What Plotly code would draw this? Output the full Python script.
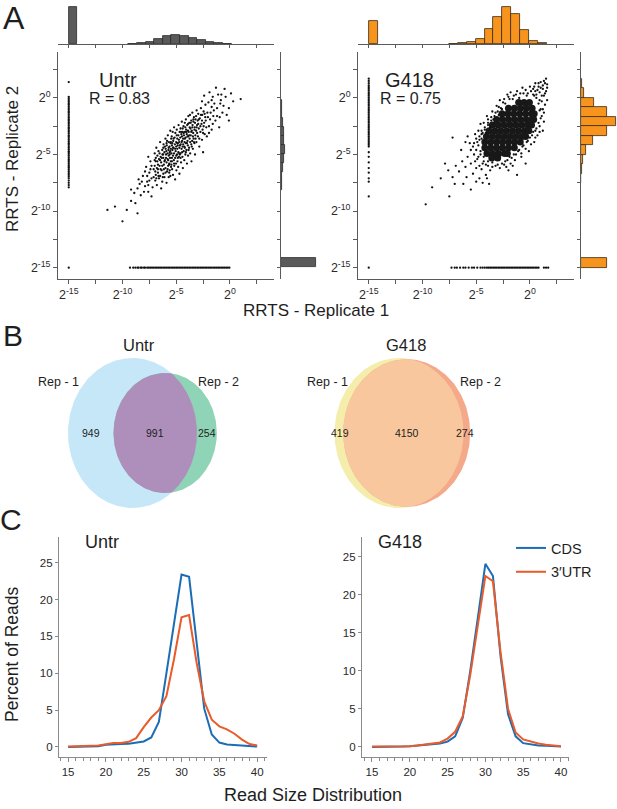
import math
import plotly.graph_objects as go

# ======================= DATA =======================
# Panel A: log2 RRTS values (replicate 1 = x, replicate 2 = y)
scatter_tickvals = [-15, -10, -5, 0]
scatter_ticktext = ["2<sup>-15</sup>", "2<sup>-10</sup>", "2<sup>-5</sup>", "2<sup>0</sup>"]
scatter_minor_ticks = [-12.5, -7.5, -2.5, 2.5]
hist_ticks = [-15, -12.5, -10, -7.5, -5, -2.5, 0, 2.5]

untr_cloud = [
    (-11.4, -9.9), (-10.7, -9.6), (-10.0, -10.9), (-9.6, -9.9), (-8.6, -10.2), (-9.2, -9.1),
    (-9.2, -8.1), (-8.8, -9.3),
    (-8.5, -7.2), (-8.3, -8.6), (-8.1, -6.9), (-7.9, -7.8), (-8.6, -8.0),
    (-7.8, -6.1), (-7.7, -7.4), (-7.6, -8.3), (-7.5, -6.6), (-7.4, -5.6), (-7.3, -7.1), (-7.2, -7.9),
    (-7.1, -6.3), (-7.6, -5.2), (-7.3, -8.7),
    (-7.0, -6.0), (-7.0, -4.9), (-6.95, -7.3), (-6.9, -5.6), (-6.9, -6.8), (-6.85, -4.4), (-6.8, -6.2),
    (-6.8, -7.7), (-6.75, -5.1), (-6.7, -5.9), (-6.7, -6.6), (-6.65, -4.7), (-6.6, -7.1), (-6.6, -5.4),
    (-6.55, -6.0), (-6.5, -3.9), (-6.5, -6.9), (-6.45, -5.2), (-6.4, -8.0), (-6.4, -5.7), (-6.35, -6.4),
    (-6.3, -4.6), (-6.3, -7.4), (-6.28, -5.0),
    (-6.2, -5.3), (-6.2, -6.7), (-6.18, -4.1), (-6.15, -5.9), (-6.1, -4.8), (-6.1, -7.0), (-6.05, -5.5),
    (-6.0, -3.6), (-6.0, -6.2), (-5.98, -4.5), (-5.95, -5.0), (-5.9, -7.5), (-5.9, -5.7), (-5.88, -4.2),
    (-5.85, -6.5), (-5.8, -4.9), (-5.8, -5.4), (-5.78, -3.3), (-5.75, -6.0), (-5.72, -4.6), (-5.7, -7.0),
    (-5.7, -5.1), (-5.68, -3.9), (-5.65, -5.8), (-5.62, -4.3), (-5.6, -6.4), (-5.6, -4.8), (-5.58, -5.3),
    (-5.55, -2.9), (-5.55, -6.9), (-5.52, -4.0), (-5.5, -5.6), (-5.5, -4.5), (-5.48, -6.1), (-5.47, -3.6),
    (-6.22, -5.0), (-5.92, -4.7), (-5.66, -5.9),
    (-5.44, -4.9), (-5.42, -3.4), (-5.4, -5.6), (-5.4, -4.2), (-5.38, -6.3), (-5.35, -4.6), (-5.33, -3.0),
    (-5.3, -5.1), (-5.3, -6.8), (-5.28, -3.8), (-5.25, -4.4), (-5.22, -5.5), (-5.2, -2.6), (-5.2, -4.9),
    (-5.18, -6.0), (-5.15, -3.5), (-5.12, -4.1), (-5.1, -5.3), (-5.1, -7.2), (-5.08, -3.1), (-5.05, -4.7),
    (-5.02, -5.8), (-5.0, -3.9), (-5.0, -4.3), (-4.98, -6.4), (-4.95, -2.8), (-4.92, -5.0), (-4.9, -3.6),
    (-4.9, -4.5), (-4.88, -5.6), (-4.85, -4.0), (-4.82, -6.1), (-4.8, -3.3), (-4.8, -4.8), (-4.78, -2.4),
    (-4.75, -5.2), (-4.72, -3.9), (-4.7, -4.4), (-4.7, -6.7), (-4.68, -3.0), (-4.66, -5.0), (-5.36, -4.0),
    (-4.86, -4.2),
    (-4.62, -3.5), (-4.6, -4.9), (-4.6, -2.7), (-4.58, -4.1), (-4.55, -5.7), (-4.52, -3.2), (-4.5, -4.5),
    (-4.48, -2.1), (-4.45, -3.8), (-4.42, -5.2), (-4.4, -3.0), (-4.4, -4.3), (-4.38, -6.2), (-4.35, -3.6),
    (-4.32, -2.5), (-4.3, -4.7), (-4.28, -3.3), (-4.25, -5.5), (-4.22, -3.9), (-4.2, -2.2), (-4.2, -4.4),
    (-4.18, -3.0), (-4.15, -5.0), (-4.12, -3.5), (-4.1, -1.9), (-4.1, -4.0), (-4.08, -2.8), (-4.05, -4.6),
    (-4.02, -3.2), (-4.0, -5.8), (-3.98, -2.4), (-3.95, -3.8), (-3.92, -4.2), (-3.9, -2.9), (-3.9, -5.1),
    (-3.88, -3.4), (-3.87, -1.6), (-4.47, -3.4),
    (-3.84, -3.0), (-3.8, -4.4), (-3.78, -2.2), (-3.75, -3.6), (-3.72, -1.5), (-3.7, -4.9), (-3.68, -2.7),
    (-3.65, -3.3), (-3.6, -2.0), (-3.6, -4.1), (-3.58, -5.6), (-3.55, -2.9), (-3.52, -3.8), (-3.5, -1.3),
    (-3.48, -2.4), (-3.45, -4.5), (-3.42, -3.1), (-3.4, -2.1), (-3.38, -3.6), (-3.35, -1.7), (-3.3, -4.0),
    (-3.28, -2.6), (-3.25, -5.0), (-3.22, -3.3), (-3.2, -1.9), (-3.15, -2.9), (-3.12, -3.9), (-3.1, -1.1),
    (-3.06, -2.4),
    (-3.0, -2.0), (-2.98, -3.4), (-2.95, -1.4), (-2.9, -2.7), (-2.85, -4.3), (-2.8, -1.8), (-2.75, -3.0),
    (-2.7, -0.9), (-2.65, -2.3), (-2.6, -3.7), (-2.58, -1.5), (-2.55, -2.8), (-2.5, -4.8), (-2.45, -1.2),
    (-2.4, -2.2), (-2.35, -3.2), (-2.3, -1.7), (-2.28, -0.6),
    (-2.2, -2.6), (-2.1, -1.3), (-2.0, -0.4), (-1.95, -3.1), (-1.85, -1.9), (-1.7, -0.8), (-1.6, -2.3),
    (-1.5, -1.1), (-2.4, 0.2), (-1.9, 0.5), (-2.6, -0.3), (-1.6, 0.1), (-0.8, 0.3),
    (-1.3, 0.9), (-1.2, -1.6), (-1.0, -2.6), (-0.9, -0.5), (-0.7, -1.3),
    (-0.5, 0.8), (0.1, 0.4), (1.0, -0.1), (-1.7, -0.2), (-0.1, -0.9), (-0.1, -2.0),
    (-6.9, -5.3), (-6.7, -6.3), (-6.5, -5.5), (-6.3, -6.0), (-6.2, -4.4), (-6.1, -5.6), (-6.0, -6.6),
    (-5.9, -4.0), (-5.8, -6.3), (-5.7, -4.4), (-5.6, -5.0), (-5.5, -3.9), (-5.4, -5.3), (-5.3, -4.4),
    (-5.25, -3.6), (-5.2, -5.8), (-5.1, -4.5), (-5.0, -5.1), (-4.95, -3.3), (-4.9, -4.0), (-4.85, -5.3),
    (-4.75, -3.7), (-4.7, -4.9), (-4.65, -4.2), (-4.6, -5.3), (-4.55, -3.0), (-4.5, -3.9), (-4.45, -4.8),
    (-4.4, -2.7), (-4.35, -4.1), (-4.3, -3.1), (-4.25, -4.3), (-4.2, -3.6), (-4.15, -2.6), (-4.1, -4.8),
    (-4.05, -3.0), (-4.0, -4.0), (-3.95, -3.4), (-3.9, -2.3), (-3.85, -4.6), (-3.8, -3.3), (-3.75, -2.6),
    (-3.7, -3.9), (-3.65, -2.2), (-3.6, -3.0), (-3.55, -4.3), (-3.5, -2.6), (-3.45, -3.4), (-3.4, -1.9),
    (-3.35, -3.9), (-3.3, -2.8), (-3.25, -2.2), (-3.2, -3.6), (-3.15, -1.6), (-3.1, -2.6), (-3.05, -3.1),
    (-2.95, -2.3), (-2.9, -1.9), (-2.85, -3.6), (-2.75, -2.5), (-2.7, -1.5), (-2.6, -2.0), (-2.5, -3.1),
    (-2.45, -2.5), (-2.35, -1.4), (-2.25, -2.0), (-2.15, -3.4), (-2.05, -1.7), (-1.95, -2.5), (-1.8, -1.3),
    (-1.7, -2.8), (-1.55, -1.6), (-1.45, -0.5), (-1.35, -2.0), (-1.2, -0.9), (-1.1, 0.3), (-0.95, -1.7),
    (-0.85, -0.2), (-0.6, -0.7), (-0.4, 0.1), (-0.3, -1.5), (0.3, -0.3),
    (-7.5, -7.3), (-7.3, -6.0), (-7.1, -7.0), (-7.0, -5.5), (-6.95, -6.5), (-6.85, -7.1), (-6.75, -5.6),
    (-6.65, -6.9), (-6.55, -4.9), (-6.45, -6.3), (-6.35, -5.3), (-6.25, -7.0), (-6.15, -6.3), (-6.05, -4.3),
    (-5.95, -5.3), (-5.85, -3.8), (-5.75, -5.5), (-5.65, -6.6), (-5.55, -4.7), (-5.45, -5.9),
    (-8.9, -8.4), (-8.4, -7.6), (-8.0, -8.3), (-7.9, -6.5), (-7.7, -6.9), (-8.2, -7.4), (-7.6, -7.7),
    (-7.4, -6.3),
]
untr_left_strip_y = [1.4, 0.1, -0.05, -0.2, -0.35, -0.5, -0.6, -0.75, -0.9, -1.05, -1.2, -1.3, -1.45,
                     -1.6, -1.75, -1.9, -2.0, -2.15, -2.3, -2.45, -2.6, -2.7, -2.85, -3.0, -3.15, -3.3,
                     -3.4, -3.55, -3.7, -3.85, -4.0, -4.1, -4.25, -4.4, -4.55, -4.7, -4.8, -4.95, -5.1,
                     -5.25, -5.4, -5.5, -5.65, -5.8, -5.95, -6.1, -6.2, -6.35, -6.5, -6.65, -6.8, -6.95,
                     -7.1, -7.3, -7.5, -7.7, -7.9, -15.0]
untr_bottom_strip_x = [-9.3, -9.0, -8.8, -8.6, -8.5, -8.3, -8.2, -8.0, -7.9, -7.7, -7.55, -7.4, -7.25,
                       -7.1, -6.95, -6.8, -6.65, -6.5, -6.35, -6.2, -6.05, -5.9, -5.75, -5.6, -5.45,
                       -5.3, -5.15, -5.0, -4.85, -4.7, -4.55, -4.4, -4.25, -4.1, -3.95, -3.8, -3.65,
                       -3.5, -3.35, -3.2, -3.05, -2.9, -2.75, -2.6, -2.45, -2.3, -2.15, -2.0, -1.85,
                       -1.7, -1.55, -1.4, -1.25, -1.1, -0.95, -0.8, -0.65, -0.5, -0.35, -0.2, -0.05]

# dense (saturated) core of the G418 cloud
g418_core = [
    (-1.05, -0.4), (-0.55, -0.4), (-0.05, -0.4),
    (-2.0, -0.9), (-1.45, -0.9), (-0.9, -0.9), (-0.35, -0.9), (0.2, -0.9),
    (-2.6, -1.4), (-2.05, -1.4), (-1.5, -1.4), (-0.95, -1.4), (-0.4, -1.4), (0.15, -1.4), (0.4, -1.4),
    (-3.1, -1.9), (-2.55, -1.9), (-2.0, -1.9), (-1.45, -1.9), (-0.9, -1.9), (-0.35, -1.9), (0.2, -1.9), (0.35, -1.9),
    (-3.5, -2.4), (-2.95, -2.4), (-2.4, -2.4), (-1.85, -2.4), (-1.3, -2.4), (-0.75, -2.4), (-0.2, -2.4), (0.15, -2.4),
    (-3.8, -2.9), (-3.25, -2.9), (-2.7, -2.9), (-2.15, -2.9), (-1.6, -2.9), (-1.05, -2.9), (-0.5, -2.9), (-0.1, -2.9),
    (-4.05, -3.4), (-3.5, -3.4), (-2.95, -3.4), (-2.4, -3.4), (-1.85, -3.4), (-1.3, -3.4), (-0.75, -3.4), (-0.4, -3.4),
    (-4.2, -3.9), (-3.65, -3.9), (-3.1, -3.9), (-2.55, -3.9), (-2.0, -3.9), (-1.45, -3.9), (-0.9, -3.9),
    (-4.2, -4.4), (-3.65, -4.4), (-3.1, -4.4), (-2.55, -4.4), (-2.0, -4.4), (-1.45, -4.4),
    (-4.0, -4.9), (-3.45, -4.9), (-2.9, -4.9), (-2.35, -4.9), (-2.1, -4.9),
    (-3.55, -5.3), (-3.0, -5.3),
]
g418_sparse = [
    (1.5, 1.7), (1.3, 1.5), (1.6, 1.2), (1.0, 1.4), (0.8, 1.0), (1.2, 0.8), (1.5, 0.6), (0.5, 1.3),
    (0.3, 0.8), (0.9, 0.5), (1.3, 0.2), (1.6, -0.2), (0.0, 1.0), (-0.4, 0.7), (0.6, 0.3), (1.1, -0.3),
    (-0.9, 0.4), (-0.2, 0.4), (0.4, 0.2), (1.4, -0.6), (0.8, -0.5), (-1.3, 0.3), (-0.7, 0.9), (1.0, -1.0),
    (1.3, -1.3),
    (-2.0, 0.1), (-2.5, -0.4), (-1.8, 0.5), (-2.9, -0.8), (-3.2, -1.3), (-2.6, -1.0), (-3.6, -1.7),
    (-3.9, -2.2), (-3.4, -1.9), (-4.2, -2.6), (-4.5, -2.9), (-4.0, -1.6), (-4.7, -3.4), (-4.9, -3.9),
    (-5.1, -3.2), (-4.4, -3.1), (-5.3, -4.3), (-5.6, -4.0), (-4.6, -2.3), (-5.0, -4.6), (-2.8, -0.2),
    (-1.6, -0.1), (-5.8, -3.4),
    (0.9, -2.5), (0.5, -2.9), (1.0, -1.8), (0.2, -3.3), (-0.2, -3.8), (-0.6, -4.2), (0.4, -3.9),
    (-1.0, -4.6), (-1.3, -5.0), (-0.8, -5.2), (-1.7, -5.3), (-2.1, -5.5), (-1.6, -6.0), (-2.4, -5.9),
    (-0.1, -4.7), (-2.8, -6.2), (-1.2, -6.8), (0.7, -3.3), (-3.2, -6.0), (-2.0, -6.4),
    (-0.4, -5.8), (1.2, -2.9),
    (-4.6, -5.0), (-4.3, -5.6), (-4.9, -5.4), (-5.2, -5.0), (-3.9, -6.0), (-4.5, -6.3), (-5.5, -5.8),
    (-5.0, -6.2), (-5.8, -5.2), (-6.0, -6.1), (-3.5, -5.7), (-4.1, -6.8), (-6.3, -5.6), (-5.3, -6.7),
    (-6.6, -6.5), (-5.9, -7.0), (-6.9, -6.0), (-7.2, -7.0), (-4.7, -7.1), (-6.2, -7.6), (-7.6, -6.4),
    (-5.0, -7.4), (-4.4, -7.5), (-7.0, -7.6), (-8.3, -7.1), (-7.5, -8.7), (-9.1, -7.9), (-9.7, -9.4),
    (-5.5, -8.1), (-7.2, -3.5), (-6.0, -3.9), (-6.4, -4.6), (-7.9, -5.8), (-3.8, -7.6), (-4.0, -7.1),
    (-1.9, -0.1), (-2.3, -0.5), (-2.7, -0.9), (-3.0, -1.2), (-3.3, -1.6), (-3.6, -2.0), (-3.9, -2.4),
    (-4.2, -2.8), (-4.5, -3.2), (-4.7, -3.7), (-2.1, 0.3), (-1.5, 0.2), (-2.4, -0.1), (-3.1, -0.7),
    (-3.5, -1.2), (-3.9, -1.9), (-4.3, -2.2), (-4.8, -2.9), (-5.0, -3.6), (-1.2, 0.6), (-0.6, 0.4),
    (-1.0, 0.0), (-2.9, -1.5), (-3.3, -2.2), (-3.7, -2.6), (-4.1, -3.1), (-4.5, -3.6), (-4.8, -4.2),
    (-5.2, -4.0), (-5.5, -4.6),
    (0.9, -1.1), (1.1, -1.6), (0.8, -2.2), (0.6, -2.7), (0.3, -3.0), (0.0, -3.5), (-0.3, -3.9),
    (-0.7, -4.3), (-1.1, -4.7), (-1.5, -5.0), (-1.9, -5.2), (-2.3, -5.6), (-2.6, -5.8), (-3.0, -5.9),
    (1.2, -1.0), (1.3, -2.1), (0.9, -3.0), (0.5, -3.5), (0.1, -4.1), (-0.4, -4.5), (-0.8, -4.9),
    (-1.4, -5.5), (-1.8, -5.8), (-2.2, -6.1),
    (0.6, 0.0), (0.9, -0.2), (0.3, 0.3), (1.1, 0.2), (0.7, 0.7), (0.1, 0.6), (1.4, 0.4), (1.0, 0.9),
    (0.4, 1.0), (1.2, 1.1), (0.8, 1.3), (1.4, 1.3), (1.6, 0.9), (-0.3, 0.2), (0.5, 0.6),
    (-4.3, -5.2), (-3.9, -5.6), (-4.6, -4.7), (-4.1, -5.9), (-3.5, -6.1), (-4.8, -5.2), (-4.4, -5.8),
    (-3.7, -6.4), (-5.1, -5.6), (-4.7, -6.0),
]
g418_left_strip_y = [1.7, 1.5, 1.3, 1.1, 0.95, 0.8, 0.65, 0.5, 0.35, 0.2, 0.05, -0.1, -0.25, -0.4,
                     -0.55, -0.7, -0.85, -1.0, -1.15, -1.3, -1.45, -1.6, -1.75, -1.9, -2.05, -2.2,
                     -2.35, -2.5, -2.65, -2.8, -2.95, -3.1, -3.25, -3.4, -3.55, -3.7, -3.85, -4.0,
                     -4.15, -4.3, -4.8, -5.2, -5.7, -6.2, -6.6, -7.1, -7.4, -8.7, -15.0]
g418_bottom_strip_x = [-7.3, -7.0, -6.8, -6.5, -6.2, -6.0, -5.7, -5.4, -5.2, -4.9, -4.6, -4.4, -4.2,
                       -4.0, -3.85, -3.7, -3.55, -3.4, -3.25, -3.1, -2.95, -2.8, -2.65, -2.5, -2.35,
                       -2.2, -2.05, -1.9, -1.75, -1.6, -1.45, -1.3, -1.15, -1.0, -0.85, -0.7, -0.55,
                       -0.4, -0.25, -0.1, 0.05, 0.2, 0.35, 0.5, 0.65, 0.8, 1.3, 1.5, 1.7]

# Marginal histograms (bin centres, bin width, bar heights)
untr_xhist_centers = [-14.6, -9.05, -8.25, -7.45, -6.65, -5.85, -5.05, -4.25, -3.45, -2.65, -1.85, -1.05, -0.25]
untr_xhist_counts = [112, 1, 3, 6, 15, 24, 27, 24, 18, 11, 5, 3, 1]
untr_xhist_width = 0.8
g418_xhist_centers = [-14.57, -7.13, -6.30, -5.47, -4.64, -3.81, -2.98, -2.15, -1.32, -0.49, 0.34, 1.17]
g418_xhist_counts = [69, 1, 2, 5, 15, 45, 82, 110, 89, 42, 9, 2]
g418_xhist_width = 0.83
untr_yhist_centers = [-14.58, -0.57, -1.37, -2.17, -2.97, -3.77, -4.57, -5.37, -6.17, -6.97, -7.77]
untr_yhist_counts = [106, 2, 4, 7, 10, 10, 12, 10, 6, 3, 2]
untr_yhist_width = 0.8
g418_yhist_centers = [-14.58, 1.26, 0.42, -0.42, -1.26, -2.10, -2.94, -3.78, -4.62, -5.46, -6.30, -7.14]
g418_yhist_counts = [79, 2, 10, 40, 79, 105, 79, 37, 14, 7, 2, 1]
g418_yhist_width = 0.84

untr_r = "R = 0.83"
g418_r = "R = 0.75"

# Panel B: Venn counts  [Rep-1 only, both, Rep-2 only]
venn_set_labels = ["Rep - 1", "Rep - 2"]
untr_venn = [949, 991, 254]
g418_venn = [419, 4150, 274]

# Panel C: read size distribution (% of reads)
read_size = [15, 16, 17, 18, 19, 20, 21, 22, 23, 24, 25, 26, 27, 28, 29, 30, 31, 32, 33, 34, 35, 36, 37, 38, 39, 40]
untr_cds = [0.0, 0.0, 0.05, 0.1, 0.1, 0.3, 0.4, 0.4, 0.45, 0.55, 0.75, 1.3, 3.4, 10.0, 17.0, 23.4,
            23.1, 14.1, 5.2, 1.7, 0.6, 0.35, 0.3, 0.2, 0.1, 0.05]
untr_utr = [0.05, 0.05, 0.1, 0.15, 0.2, 0.35, 0.55, 0.55, 0.7, 1.2, 2.7, 4.0, 5.0, 6.9, 11.9, 17.6,
            17.9, 11.4, 6.2, 3.7, 2.8, 2.4, 1.8, 1.0, 0.4, 0.2]
g418_cds = [0.0, 0.0, 0.0, 0.05, 0.05, 0.1, 0.2, 0.3, 0.35, 0.45, 0.7, 1.4, 3.8, 10.0, 17.0, 24.1,
            22.5, 12.0, 4.3, 1.4, 0.5, 0.3, 0.2, 0.15, 0.1, 0.05]
g418_utr = [0.05, 0.05, 0.05, 0.05, 0.1, 0.1, 0.2, 0.35, 0.45, 0.6, 1.1, 2.0, 4.0, 9.5, 16.0, 22.5,
            21.8, 12.5, 5.0, 1.9, 1.0, 0.7, 0.45, 0.3, 0.2, 0.1]

# ======================= STYLE / LAYOUT =======================
W, H = 617, 809
FONT = "Liberation Sans, Arial, Helvetica, sans-serif"
TXT = "#1e1e1e"
GREY_BAR = "#5a5a5a"
ORANGE_BAR = "#f7941d"
CDS_COL = "#1b6db5"
UTR_COL = "#e85b2b"


def pxx(x):
    return x / W


def pxy(y):
    return 1 - y / H


fig = go.Figure()

# ---------- Panel A scatter ----------
pt = dict(color="#111111", size=2.3)
strip = dict(color="#111111", size=2.3)
for ax, lefty, botx in [("", untr_left_strip_y, untr_bottom_strip_x),
                        ("2", g418_left_strip_y, g418_bottom_strip_x)]:
    xa, ya = "x" + ax, "y" + ax
    fig.add_trace(go.Scatter(x=[-15] * len(lefty), y=lefty, mode="markers", marker=strip,
                             xaxis=xa, yaxis=ya, showlegend=False, hoverinfo="skip"))
    fig.add_trace(go.Scatter(x=botx, y=[-15] * len(botx), mode="markers", marker=strip,
                             xaxis=xa, yaxis=ya, showlegend=False, hoverinfo="skip"))

fig.add_trace(go.Scatter(x=[p[0] for p in untr_cloud], y=[p[1] for p in untr_cloud], mode="markers",
                         marker=pt, xaxis="x", yaxis="y", showlegend=False, hoverinfo="skip"))
fig.add_trace(go.Scatter(x=[p[0] for p in g418_core], y=[p[1] for p in g418_core], mode="markers",
                         marker=dict(color="#181818", size=7), xaxis="x2", yaxis="y2",
                         showlegend=False, hoverinfo="skip"))
fig.add_trace(go.Scatter(x=[p[0] for p in g418_sparse], y=[p[1] for p in g418_sparse], mode="markers",
                         marker=pt, xaxis="x2", yaxis="y2", showlegend=False, hoverinfo="skip"))

# ---------- marginal histograms ----------
fig.add_trace(go.Bar(x=untr_xhist_centers, y=untr_xhist_counts, width=untr_xhist_width,
                     marker=dict(color=GREY_BAR, line=dict(color="#2a2a2a", width=0.8)),
                     xaxis="x3", yaxis="y3", showlegend=False, hoverinfo="skip"))
fig.add_trace(go.Bar(x=g418_xhist_centers, y=g418_xhist_counts, width=g418_xhist_width,
                     marker=dict(color=ORANGE_BAR, line=dict(color="#3a2a12", width=0.8)),
                     xaxis="x4", yaxis="y4", showlegend=False, hoverinfo="skip"))
fig.add_trace(go.Bar(y=untr_yhist_centers, x=untr_yhist_counts, width=untr_yhist_width, orientation="h",
                     marker=dict(color=GREY_BAR, line=dict(color="#2a2a2a", width=0.8)),
                     xaxis="x5", yaxis="y5", showlegend=False, hoverinfo="skip"))
fig.add_trace(go.Bar(y=g418_yhist_centers, x=g418_yhist_counts, width=g418_yhist_width, orientation="h",
                     marker=dict(color=ORANGE_BAR, line=dict(color="#3a2a12", width=0.8)),
                     xaxis="x6", yaxis="y6", showlegend=False, hoverinfo="skip"))


# ---------- Panel B Venn (area proportional) ----------
def lens_area(r1, r2, d):
    if d >= r1 + r2:
        return 0.0
    if d <= abs(r1 - r2):
        return math.pi * min(r1, r2) ** 2
    c1 = max(-1.0, min(1.0, (d * d + r1 * r1 - r2 * r2) / (2 * d * r1)))
    c2 = max(-1.0, min(1.0, (d * d + r2 * r2 - r1 * r1) / (2 * d * r2)))
    k = (-d + r1 + r2) * (d + r1 - r2) * (d - r1 + r2) * (d + r1 + r2)
    return r1 * r1 * math.acos(c1) + r2 * r2 * math.acos(c2) - 0.5 * math.sqrt(max(k, 0.0))


def venn_geometry(counts):
    n1 = counts[0] + counts[1]
    n2 = counts[1] + counts[2]
    r1 = 1.0
    r2 = math.sqrt(n2 / n1)
    target = math.pi * counts[1] / n1
    lo, hi = abs(r1 - r2) + 1e-9, r1 + r2
    for _ in range(80):
        mid = 0.5 * (lo + hi)
        if lens_area(r1, r2, mid) > target:
            lo = mid
        else:
            hi = mid
    return r1, r2, 0.5 * (lo + hi)


def arc(cx, cy, r, a0, a1, n=160):
    xs, ys = [], []
    for i in range(n + 1):
        a = a0 + (a1 - a0) * i / n
        xs.append(cx + r * math.cos(a))
        ys.append(cy + r * math.sin(a))
    return xs, ys


def add_venn(counts, xa, ya, c1, c2, c12):
    r1, r2, d = venn_geometry(counts)
    x1, y1 = arc(0, 0, r1, 0, 2 * math.pi, 240)
    x2, y2 = arc(d, 0, r2, 0, 2 * math.pi, 240)
    fig.add_trace(go.Scatter(x=x1, y=y1, fill="toself", fillcolor=c1, mode="lines", line=dict(width=0),
                             xaxis=xa, yaxis=ya, showlegend=False, hoverinfo="skip"))
    fig.add_trace(go.Scatter(x=x2, y=y2, fill="toself", fillcolor=c2, mode="lines", line=dict(width=0),
                             xaxis=xa, yaxis=ya, showlegend=False, hoverinfo="skip"))
    a = (d * d + r1 * r1 - r2 * r2) / (2 * d)
    h = math.sqrt(max(r1 * r1 - a * a, 0))
    t1 = math.atan2(h, a)
    t2 = math.atan2(h, d - a)
    lx1, ly1 = arc(0, 0, r1, -t1, t1)
    lx2, ly2 = arc(d, 0, r2, math.pi - t2, math.pi + t2)
    fig.add_trace(go.Scatter(x=lx1 + lx2, y=ly1 + ly2, fill="toself", fillcolor=c12, mode="lines",
                             line=dict(width=0), xaxis=xa, yaxis=ya, showlegend=False, hoverinfo="skip"))


add_venn(untr_venn, "x7", "y7", "#c6e7f8", "#8fd4b6", "#ae8fbb")
add_venn(g418_venn, "x8", "y8", "#f4edab", "#f4a98b", "#f9c79d")

# ---------- Panel C lines ----------
for ax, cds, utr, leg in [("9", untr_cds, untr_utr, False), ("10", g418_cds, g418_utr, True)]:
    fig.add_trace(go.Scatter(x=read_size, y=cds, mode="lines", line=dict(color=CDS_COL, width=2),
                             name="CDS", legendgroup="a", showlegend=leg, xaxis="x" + ax, yaxis="y" + ax,
                             hoverinfo="skip"))
    fig.add_trace(go.Scatter(x=read_size, y=utr, mode="lines", line=dict(color=UTR_COL, width=2),
                             name="3\u2032UTR", legendgroup="b", showlegend=leg, xaxis="x" + ax,
                             yaxis="y" + ax, hoverinfo="skip"))

# ---------- axes ----------
AXC = "#5a5a5a"
tickfont = dict(family=FONT, size=12.5, color="#2a2a2a")
sc_ydom = [pxy(279), pxy(52)]
sc_minor = dict(tickmode="array", tickvals=scatter_minor_ticks, ticks="outside", ticklen=4,
                tickcolor=AXC, showgrid=False)
sc_x = dict(range=[-16.0, 4.1], showline=True, linecolor=AXC, linewidth=1, ticks="outside", ticklen=4,
            tickcolor=AXC, tickmode="array", tickvals=scatter_tickvals, ticktext=scatter_ticktext,
            showgrid=False, zeroline=False, tickfont=tickfont, minor=sc_minor)
sc_y = dict(range=[-16.0, 4.06], showline=True, linecolor=AXC, linewidth=1, ticks="outside", ticklen=4,
            tickcolor=AXC, tickmode="array", tickvals=scatter_tickvals, ticktext=scatter_ticktext,
            showgrid=False, zeroline=False, tickfont=tickfont, minor=sc_minor)
hist_minor = dict(tickmode="array", tickvals=hist_ticks, ticks="outside", ticklen=3, tickcolor=AXC,
                  showgrid=False)
hist_x = dict(range=[-16.0, 4.1], showline=True, linecolor=AXC, linewidth=1, ticks="",
              tickmode="array", tickvals=[], showticklabels=False, minor=hist_minor,
              showgrid=False, zeroline=False)
hist_y = dict(range=[-16.0, 4.06], showline=True, linecolor=AXC, linewidth=1, ticks="",
              tickmode="array", tickvals=[], showticklabels=False, minor=hist_minor,
              showgrid=False, zeroline=False)
hidden = dict(visible=False, showgrid=False, zeroline=False)

LAXC = "#8a8a8a"
ln_tickfont = dict(family=FONT, size=11.5, color="#2a2a2a")
ln_x = dict(showline=True, linecolor=LAXC, linewidth=1.2, ticks="outside", ticklen=4, tickcolor=LAXC,
            tickmode="linear", tick0=15, dtick=5, showgrid=False, zeroline=False, tickfont=ln_tickfont,
            minor=dict(dtick=1, tick0=15, ticks="outside", ticklen=3, tickcolor=LAXC, showgrid=False))
ln_y = dict(showline=True, linecolor=LAXC, linewidth=1.2, ticks="outside", ticklen=3, tickcolor=LAXC,
            tickmode="linear", tick0=0, dtick=5, showgrid=False, zeroline=False, tickfont=ln_tickfont)

fig.update_layout(
    width=W, height=H, margin=dict(l=0, r=0, t=0, b=0),
    paper_bgcolor="white", plot_bgcolor="rgba(0,0,0,0)",
    font=dict(family=FONT, color=TXT),
    bargap=0,
    xaxis=dict(domain=[pxx(58), pxx(274)], anchor="y", **sc_x),
    yaxis=dict(domain=sc_ydom, anchor="x", **sc_y),
    xaxis2=dict(domain=[pxx(358), pxx(574)], anchor="y2", **sc_x),
    yaxis2=dict(domain=sc_ydom, anchor="x2", **sc_y),
    xaxis3=dict(domain=[pxx(58), pxx(274)], anchor="y3", **hist_x),
    yaxis3=dict(domain=[pxy(44), pxy(6)], anchor="x3", range=[0, 114], **hidden),
    xaxis4=dict(domain=[pxx(358), pxx(574)], anchor="y4", **hist_x),
    yaxis4=dict(domain=[pxy(44), pxy(6)], anchor="x4", range=[0, 114], **hidden),
    xaxis5=dict(domain=[pxx(281), pxx(318)], anchor="y5", range=[0, 111], **hidden),
    yaxis5=dict(domain=sc_ydom, anchor="x5", **hist_y),
    xaxis6=dict(domain=[pxx(581), pxx(617)], anchor="y6", range=[0, 108], **hidden),
    yaxis6=dict(domain=sc_ydom, anchor="x6", **hist_y),
    xaxis7=dict(domain=[pxx(20), pxx(250)], anchor="y7", range=[-(132.5 - 20) / 64.5, (250 - 132.5) / 64.5], **hidden),
    yaxis7=dict(domain=[pxy(515), pxy(350)], anchor="x7", range=[-(515 - 433) / 75, (433 - 350) / 75], **hidden),
    xaxis8=dict(domain=[pxx(290), pxx(520)], anchor="y8", range=[-(399 - 290) / 64.5, (520 - 399) / 64.5], **hidden),
    yaxis8=dict(domain=[pxy(515), pxy(350)], anchor="x8", range=[-(515 - 433) / 75, (433 - 350) / 75], **hidden),
    xaxis9=dict(domain=[pxx(59), pxx(267)], anchor="y9", range=[13.8, 41.3], **ln_x),
    yaxis9=dict(domain=[pxy(757), pxy(537)], anchor="x9", range=[-1.36, 28.5], **ln_y),
    xaxis10=dict(domain=[pxx(362), pxx(569)], anchor="y10", range=[13.68, 41.06], **ln_x),
    yaxis10=dict(domain=[pxy(757), pxy(537)], anchor="x10", range=[-1.32, 27.63], **ln_y),
    legend=dict(x=pxx(511), y=pxy(532), xanchor="left", yanchor="top", bgcolor="rgba(0,0,0,0)",
                font=dict(family=FONT, size=14.5, color=TXT), itemwidth=30, tracegroupgap=2),
)


def txt(x, y, s, size, angle=0, color=TXT):
    fig.add_annotation(x=pxx(x), y=pxy(y), xref="paper", yref="paper", text=s, showarrow=False,
                       xanchor="center", yanchor="middle", textangle=angle,
                       font=dict(family=FONT, size=size, color=color))


# panel letters
txt(14, 18, "A", 32)
txt(13, 336, "B", 30)
txt(11, 519, "C", 30)
# panel A texts
txt(118, 80, "Untr", 20)
txt(119, 98, untr_r, 16)
txt(409, 80, "G418", 20)
txt(410, 98, g418_r, 16)
txt(13, 159, "RRTS - Replicate 2", 17, angle=-90)
txt(316, 310, "RRTS - Replicate 1", 17)
# panel B texts
txt(139, 345, "Untr", 16.5)
txt(406, 345, "G418", 16.5)
txt(58, 382, venn_set_labels[0], 12.5)
txt(218, 382, venn_set_labels[1], 12.5)
txt(327, 382, venn_set_labels[0], 12.5)
txt(480, 382, venn_set_labels[1], 12.5)
for xpos, v in zip([91, 155, 207], untr_venn):
    txt(xpos, 433, str(v), 10.5)
for xpos, v in zip([340, 407, 465], g418_venn):
    txt(xpos, 433, str(v), 10.5)
# panel C texts
txt(102, 542, "Untr", 18)
txt(400, 542, "G418", 18)
txt(12, 655, "Percent of Reads", 17.5, angle=-90)
txt(313, 795, "Read Size Distribution", 18)

fig.write_html("out.html", config={"displayModeBar": False},
               post_script="document.body.style.margin='0px';document.body.style.padding='0px';")
